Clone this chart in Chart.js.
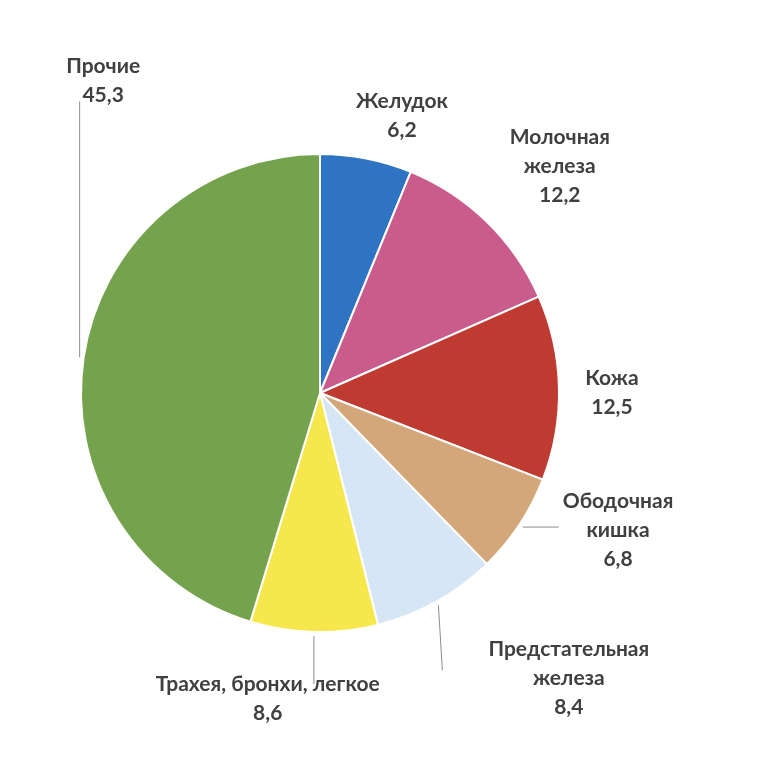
<!DOCTYPE html>
<html>
<head>
<meta charset="utf-8">
<script src="https://cdn.jsdelivr.net/npm/chart.js@4"></script>
<style>
  html, body { margin: 0; padding: 0; background: #fff; }
  #wrap { width: 779px; height: 778px; position: relative; }
</style>
</head>
<body>
<div id="wrap"><canvas id="pie"></canvas></div>
<script>
// data (percent)
const labels = [
  ['Желудок'],
  ['Молочная', 'железа'],
  ['Кожа'],
  ['Ободочная', 'кишка'],
  ['Предстательная', 'железа'],
  ['Трахея, бронхи, легкое'],
  ['Прочие']
];
const values = [6.2, 12.2, 12.5, 6.8, 8.4, 8.6, 45.3];
const colors = ['#2e74c2', '#c95c8c', '#bf3b31', '#d4a77b', '#d6e6f4', '#f6e84c', '#75a34d'];

// label placement: shift from default anchor (radius + 50 along slice middle), and leader style
const labelShift = [[26, 6], [38, -20], [3, 6], [57, -22], [108, 33], [-45, 17], [69, -270]];
const leaderMode = ['', '', '', 'h', 'c', 'v', 'v'];

const fmt = v => v.toFixed(1).replace('.', ',');

const outsideLabels = {
  id: 'outsideLabels',
  afterDatasetsDraw(chart) {
    const ctx = chart.ctx;
    const meta = chart.getDatasetMeta(0);
    const lineH = 29;
    ctx.save();
    ctx.font = 'bold 21px Lato';
    ctx.fillStyle = '#404040';
    ctx.textAlign = 'center';
    ctx.textBaseline = 'middle';
    meta.data.forEach((arc, i) => {
      const p = arc.getProps(['x', 'y', 'startAngle', 'endAngle', 'outerRadius'], true);
      const mid = (p.startAngle + p.endAngle) / 2;
      const cx = p.x + Math.cos(mid) * (p.outerRadius + 50) + labelShift[i][0];
      const cy = p.y + Math.sin(mid) * (p.outerRadius + 50) + labelShift[i][1];
      const lines = labels[i].concat([fmt(values[i])]);
      const w = Math.max(...lines.map(t => ctx.measureText(t).width));
      const h = lines.length * lineH;
      const top = cy - h / 2;
      lines.forEach((t, k) => ctx.fillText(t, cx, top + lineH * k + lineH / 2));

      // leader line from the slice edge
      const mode = leaderMode[i];
      if (!mode) return;
      const ax = p.x + Math.cos(mid) * (p.outerRadius + 4);
      const ay = p.y + Math.sin(mid) * (p.outerRadius + 4);
      let ex, ey;
      if (mode === 'h') {
        ex = cx - w / 2 - 4; ey = ay;
      } else if (mode === 'c') {
        ex = ax + 4; ey = cy - 8;
      } else {
        ex = ax;
        ey = ay < p.y ? top + h - 8 : top + 14;
      }
      ctx.beginPath();
      ctx.moveTo(ax, ay);
      ctx.lineTo(ex, ey);
      ctx.strokeStyle = '#8c8c8c';
      ctx.lineWidth = 1;
      ctx.stroke();
    });
    ctx.restore();
  }
};

new Chart(document.getElementById('pie'), {
  type: 'pie',
  data: {
    labels: labels.map(l => l.join(' ')),
    datasets: [{
      data: values,
      backgroundColor: colors,
      borderColor: '#ffffff',
      borderWidth: 2
    }]
  },
  options: {
    responsive: true,
    maintainAspectRatio: false,
    animation: false,
    layout: { padding: { left: 80, right: 219, top: 153, bottom: 145 } },
    plugins: {
      legend: { display: false },
      tooltip: { enabled: false }
    }
  },
  plugins: [outsideLabels]
});
</script>
</body>
</html>
